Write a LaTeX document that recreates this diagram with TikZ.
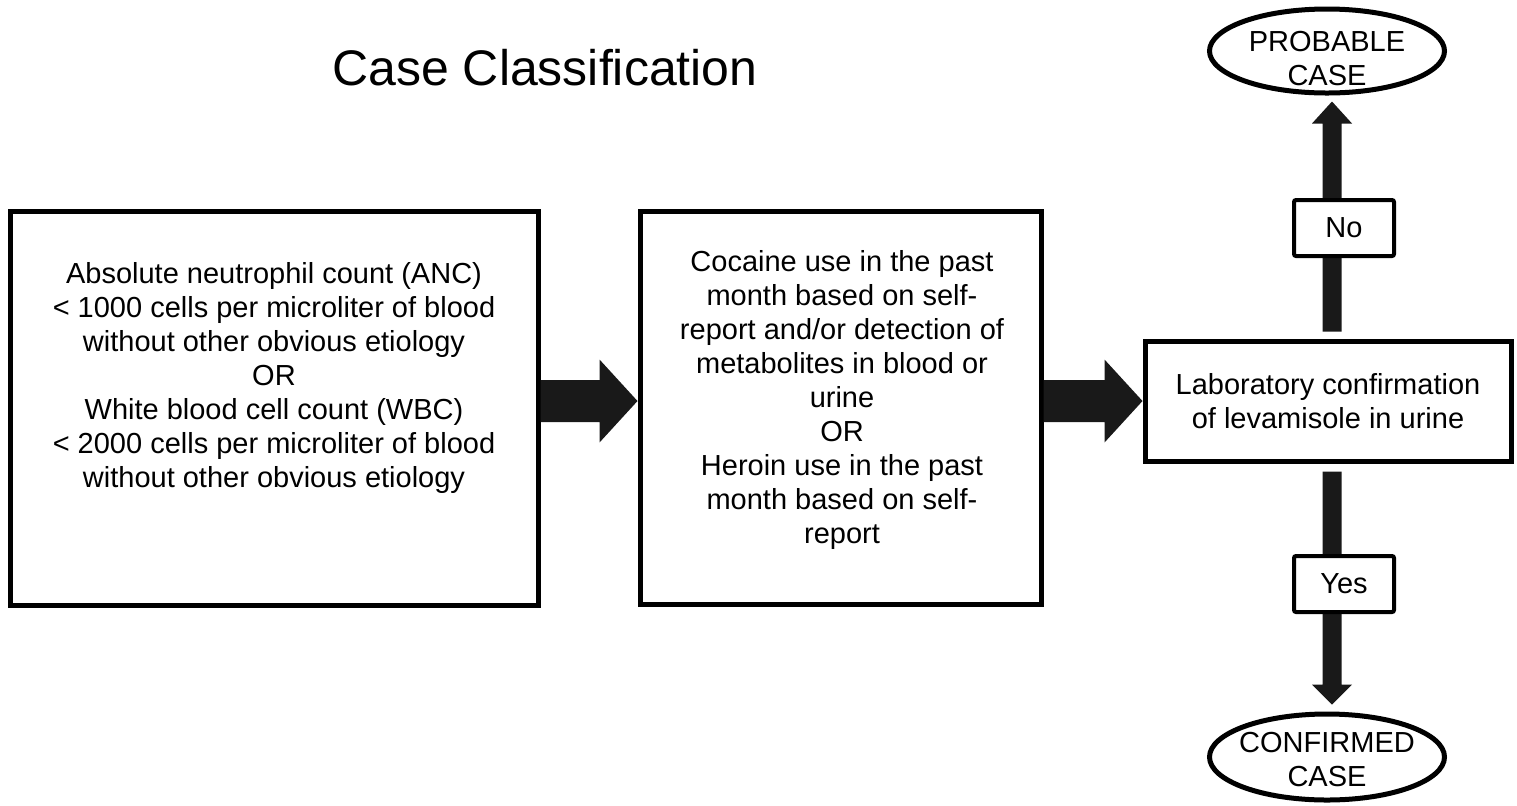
\documentclass[tikz,border=0pt]{standalone}
\usepackage{fontspec}
\setmainfont{Liberation Sans}
\usetikzlibrary{shapes.geometric,calc}
\begin{document}
\begin{tikzpicture}[x=0.5pt,y=-0.5pt,
  box/.style={draw,line width=2.5pt,rectangle,inner sep=0pt},
  txt/.style={align=center,font=\fontsize{14.5pt}{17pt}\selectfont,inner sep=0pt},
  tag/.style={draw,line width=2pt,fill=white,rounded corners=1pt,minimum width=50pt,minimum height=28pt,inner sep=0pt,font=\fontsize{14.5pt}{17pt}\selectfont},
  oval/.style={draw,ellipse,line width=2.5pt,inner sep=0pt,minimum width=117.5pt},
  fat/.style={fill=black!90}]
\useasboundingbox (0,0) rectangle (1517,805);

% title
\node[font=\fontsize{25pt}{30pt}\selectfont,inner sep=0pt] (title) at (545,68) {Case Classification};

% boxes
\node[box,minimum width=264pt,minimum height=197pt] (b1) at (274,408) {};
\node[txt] (t1) at (274,378) {Absolute neutrophil count (ANC)\\
< 1000 cells per microliter of blood\\
without other obvious etiology\\
OR\\
White blood cell count (WBC)\\
< 2000 cells per microliter of blood\\
without other obvious etiology};

\node[box,minimum width=200.5pt,minimum height=196.5pt] (b2) at (840.5,407.5) {};
\node[txt] (t2) at (842,400) {Cocaine use in the past\\
month based on self-\\
report and/or detection of\\
metabolites in blood or\\
urine\\
OR\\
Heroin use in the past\\
month based on self-\\
report};

\node[box,txt,draw,line width=2.5pt,minimum width=183pt,minimum height=60pt] (b3) at (1328,401) {Laboratory confirmation\\of levamisole in urine};

% ellipses
\node[oval,minimum height=42pt] (p1) at (1327,51) {};
\node[txt] (p1t) at (1327,59) {PROBABLE\\CASE};
\node[oval,minimum height=43pt] (c1) at (1327,757) {};
\node[txt] (c1t) at (1327,760) {CONFIRMED\\CASE};

% horizontal fat arrows
\coordinate (A1) at (b1.east |- b3.center);
\coordinate (B1) at (b2.west |- b3.center);
\fill[fat] ($(A1)+(0,-21)$) -- ($(B1)+(-38,-21)$) -- ($(B1)+(-38,-41.5)$) -- (B1)
  -- ($(B1)+(-38,41.5)$) -- ($(B1)+(-38,21)$) -- ($(A1)+(0,21)$) -- cycle;
\coordinate (A2) at (b2.east |- b3.center);
\coordinate (B2) at (b3.west);
\fill[fat] ($(A2)+(0,-21)$) -- ($(B2)+(-38,-21)$) -- ($(B2)+(-38,-41.5)$) -- (B2)
  -- ($(B2)+(-38,41.5)$) -- ($(B2)+(-38,21)$) -- ($(A2)+(0,21)$) -- cycle;

% vertical arrows
\coordinate (S1) at ($(b3.north)+(4,-7)$);
\coordinate (T1) at ($(S1 |- p1.south)+(0,6)$);
\fill[fat] ($(S1)+(-9.5,0)$) -- ($(T1)+(-9.5,22)$) -- ($(T1)+(-20,22)$) -- (T1)
  -- ($(T1)+(20,22)$) -- ($(T1)+(9.5,22)$) -- ($(S1)+(9.5,0)$) -- cycle;
\coordinate (S2) at ($(b3.south)+(4,8)$);
\coordinate (T2) at ($(S2 |- c1.north)+(0,-7)$);
\fill[fat] ($(S2)+(-9.5,0)$) -- ($(T2)+(-9.5,-20)$) -- ($(T2)+(-20,-20)$) -- (T2)
  -- ($(T2)+(20,-20)$) -- ($(T2)+(9.5,-20)$) -- ($(S2)+(9.5,0)$) -- cycle;

% tags
\node[tag] (no) at (1344,228) {No};
\node[tag] (yes) at (1344,584) {Yes};
\end{tikzpicture}
\end{document}
